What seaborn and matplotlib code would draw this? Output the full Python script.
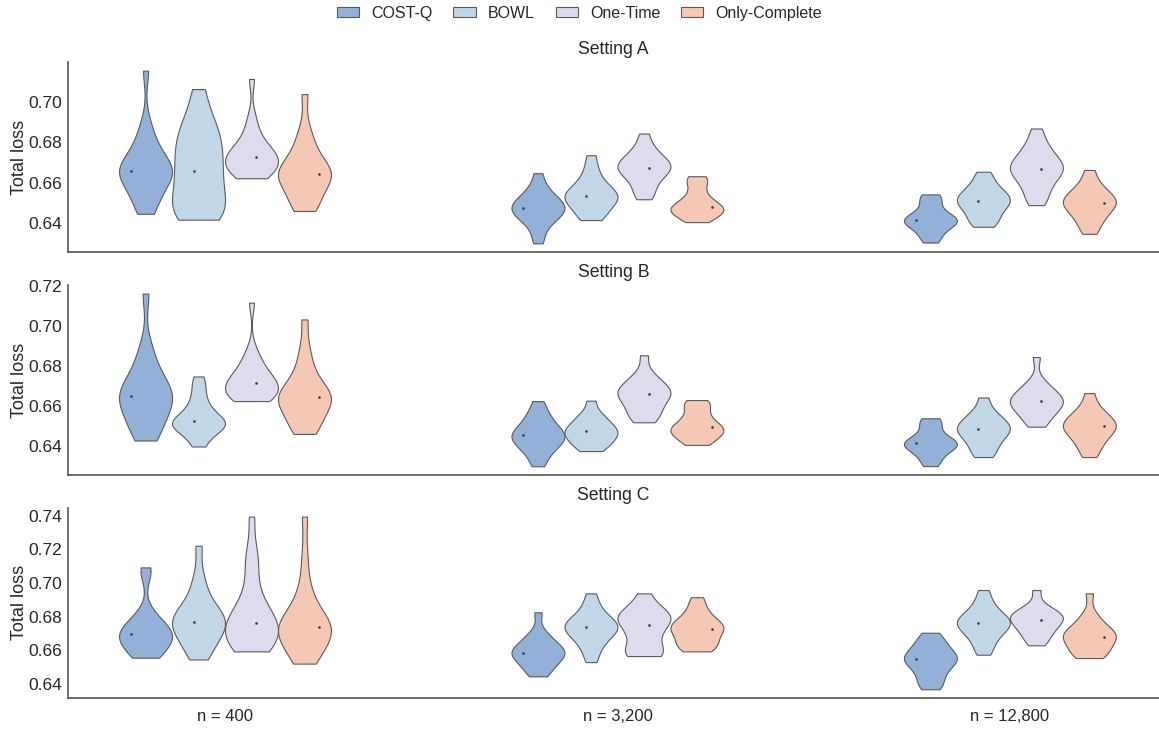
import numpy as np
import pandas as pd
import matplotlib
matplotlib.use("Agg")
import matplotlib.pyplot as plt
import seaborn as sns
from matplotlib.patches import Patch
from matplotlib.ticker import MultipleLocator

# --- categories ---
SAMPLE_SIZES = ["n = 400", "n = 3,200", "n = 12,800"]
METHODS = ["COST-Q", "BOWL", "One-Time", "Only-Complete"]
SETTINGS = ["Setting A", "Setting B", "Setting C"]
COLORS = ["#92b0d8", "#c1d7e8", "#dcdcee", "#f4c8b5"]

# --- total loss per replicate, [n=400, n=3200, n=12800] ---
a_costq = [
    [0.6446, 0.6475, 0.651, 0.654, 0.657, 0.659, 0.661, 0.663, 0.664, 0.665, 0.666,
     0.667, 0.668, 0.669, 0.671, 0.673, 0.676, 0.680, 0.683, 0.690, 0.7154],
    [0.6300, 0.635, 0.639, 0.641, 0.643, 0.644, 0.645, 0.646, 0.647, 0.648, 0.649,
     0.650, 0.651, 0.652, 0.654, 0.656, 0.659, 0.6647],
    [0.6304, 0.6325, 0.635, 0.637, 0.6385, 0.6395, 0.6405, 0.641, 0.6415, 0.642,
     0.643, 0.644, 0.6455, 0.648, 0.651, 0.653, 0.6542],
]
a_bowl = [
    [0.6417, 0.6425, 0.644, 0.646, 0.648, 0.651, 0.654, 0.657, 0.660, 0.663, 0.666,
     0.669, 0.672, 0.675, 0.678, 0.681, 0.684, 0.687, 0.691, 0.697, 0.7063],
    [0.6415, 0.643, 0.645, 0.647, 0.649, 0.650, 0.651, 0.652, 0.653, 0.654, 0.655,
     0.656, 0.657, 0.659, 0.661, 0.664, 0.668, 0.6736],
    [0.6382, 0.640, 0.642, 0.644, 0.646, 0.6475, 0.649, 0.650, 0.651, 0.652, 0.653,
     0.654, 0.6555, 0.657, 0.659, 0.662, 0.6654],
]
a_onetime = [
    [0.6622, 0.663, 0.664, 0.6655, 0.667, 0.668, 0.669, 0.670, 0.671, 0.672, 0.673,
     0.674, 0.675, 0.676, 0.678, 0.680, 0.683, 0.687, 0.693, 0.7113],
    [0.6518, 0.6545, 0.657, 0.660, 0.662, 0.664, 0.665, 0.666, 0.667, 0.668, 0.669,
     0.670, 0.671, 0.672, 0.674, 0.676, 0.679, 0.6843],
    [0.6489, 0.652, 0.655, 0.658, 0.6605, 0.6625, 0.664, 0.6655, 0.6665, 0.6675,
     0.6685, 0.670, 0.6715, 0.673, 0.675, 0.678, 0.681, 0.6868],
]
a_onlycomp = [
    [0.646, 0.6475, 0.650, 0.653, 0.656, 0.658, 0.660, 0.662, 0.663, 0.664, 0.665,
     0.666, 0.667, 0.669, 0.671, 0.674, 0.678, 0.681, 0.688, 0.7038],
    [0.6405, 0.642, 0.643, 0.644, 0.645, 0.646, 0.6465, 0.647, 0.6475, 0.648, 0.649,
     0.650, 0.651, 0.653, 0.655, 0.658, 0.661, 0.662, 0.6632],
    [0.6347, 0.638, 0.641, 0.643, 0.645, 0.6465, 0.648, 0.649, 0.650, 0.651, 0.652,
     0.653, 0.6545, 0.656, 0.658, 0.661, 0.6663],
]

b_costq = [
    [0.643, 0.6455, 0.649, 0.652, 0.655, 0.658, 0.660, 0.662, 0.6635, 0.665, 0.6665,
     0.668, 0.670, 0.672, 0.675, 0.679, 0.684, 0.691, 0.7164],
    [0.6301, 0.634, 0.637, 0.639, 0.6405, 0.642, 0.643, 0.644, 0.645, 0.646, 0.647,
     0.648, 0.6495, 0.651, 0.653, 0.6555, 0.658, 0.6627],
    [0.6302, 0.6325, 0.635, 0.637, 0.6385, 0.6395, 0.6405, 0.641, 0.6415, 0.642,
     0.643, 0.644, 0.6455, 0.648, 0.651, 0.653, 0.6541],
]
b_bowl = [
    [0.640, 0.643, 0.646, 0.648, 0.6495, 0.650, 0.6505, 0.651, 0.6515, 0.6525, 0.6535,
     0.6545, 0.656, 0.658, 0.660, 0.663, 0.667, 0.671, 0.675],
    [0.6377, 0.6395, 0.641, 0.6425, 0.644, 0.645, 0.646, 0.647, 0.648, 0.649, 0.650,
     0.6515, 0.653, 0.655, 0.657, 0.6629],
    [0.6347, 0.637, 0.6395, 0.642, 0.644, 0.6455, 0.647, 0.648, 0.649, 0.650, 0.651,
     0.6525, 0.654, 0.656, 0.6585, 0.6645],
]
b_onetime = [
    [0.6627, 0.6632, 0.664, 0.665, 0.666, 0.667, 0.668, 0.669, 0.670, 0.671, 0.672,
     0.673, 0.674, 0.6755, 0.677, 0.679, 0.682, 0.684, 0.689, 0.7119],
    [0.6521, 0.654, 0.656, 0.658, 0.660, 0.662, 0.6635, 0.665, 0.666, 0.667, 0.668,
     0.669, 0.6705, 0.672, 0.674, 0.677, 0.6856],
    [0.6499, 0.6525, 0.655, 0.657, 0.6585, 0.660, 0.661, 0.662, 0.663, 0.664, 0.665,
     0.6665, 0.668, 0.670, 0.673, 0.6847],
]
b_onlycomp = [
    [0.6463, 0.648, 0.6505, 0.653, 0.656, 0.658, 0.660, 0.6615, 0.663, 0.664, 0.665,
     0.666, 0.667, 0.669, 0.671, 0.674, 0.678, 0.683, 0.690, 0.7035],
    [0.6408, 0.642, 0.6435, 0.645, 0.646, 0.647, 0.648, 0.6485, 0.649, 0.650, 0.651,
     0.6525, 0.654, 0.656, 0.6585, 0.661, 0.662, 0.6632],
    [0.6347, 0.638, 0.641, 0.643, 0.645, 0.6465, 0.648, 0.649, 0.650, 0.651, 0.652,
     0.653, 0.6545, 0.656, 0.658, 0.661, 0.6667],
]

c_costq = [
    [0.6554, 0.657, 0.659, 0.661, 0.663, 0.665, 0.6665, 0.668, 0.669, 0.670, 0.671,
     0.6725, 0.674, 0.676, 0.679, 0.683, 0.7055, 0.7093],
    [0.6443, 0.647, 0.650, 0.652, 0.654, 0.6555, 0.657, 0.658, 0.659, 0.660, 0.6615,
     0.663, 0.665, 0.6675, 0.671, 0.6825],
    [0.6366, 0.639, 0.642, 0.645, 0.648, 0.650, 0.652, 0.6535, 0.6545, 0.6555, 0.6565,
     0.658, 0.660, 0.662, 0.6645, 0.667, 0.6703],
]
c_bowl = [
    [0.6544, 0.658, 0.662, 0.665, 0.668, 0.670, 0.672, 0.674, 0.6755, 0.677, 0.6785,
     0.680, 0.682, 0.684, 0.687, 0.691, 0.697, 0.705, 0.7222],
    [0.6528, 0.658, 0.662, 0.665, 0.667, 0.669, 0.6705, 0.672, 0.673, 0.674, 0.675,
     0.676, 0.6775, 0.679, 0.681, 0.684, 0.688, 0.6938],
    [0.6572, 0.661, 0.665, 0.668, 0.670, 0.672, 0.6735, 0.675, 0.676, 0.677, 0.678,
     0.6795, 0.681, 0.683, 0.686, 0.690, 0.6958],
]
c_onetime = [
    [0.6592, 0.6605, 0.662, 0.664, 0.666, 0.668, 0.670, 0.672, 0.674, 0.6755, 0.677,
     0.679, 0.681, 0.684, 0.688, 0.694, 0.703, 0.714, 0.718, 0.7396],
    [0.6564, 0.657, 0.658, 0.660, 0.664, 0.668, 0.671, 0.6735, 0.6765, 0.678, 0.679,
     0.6805, 0.682, 0.684, 0.687, 0.6938],
    [0.6628, 0.666, 0.669, 0.671, 0.673, 0.675, 0.6765, 0.678, 0.679, 0.680, 0.681,
     0.6825, 0.684, 0.6865, 0.6958],
]
c_onlycomp = [
    [0.6519, 0.655, 0.658, 0.661, 0.664, 0.6665, 0.6685, 0.6705, 0.672, 0.673, 0.674,
     0.675, 0.677, 0.679, 0.682, 0.686, 0.692, 0.700, 0.716, 0.7396],
    [0.6592, 0.6605, 0.662, 0.6635, 0.665, 0.667, 0.669, 0.671, 0.672, 0.673, 0.674,
     0.675, 0.6765, 0.678, 0.680, 0.683, 0.687, 0.6915],
    [0.6552, 0.6565, 0.658, 0.660, 0.662, 0.664, 0.6655, 0.667, 0.668, 0.669, 0.670,
     0.6715, 0.673, 0.675, 0.678, 0.682, 0.6938],
]

SETTING_DATA = {
    "Setting A": [a_costq, a_bowl, a_onetime, a_onlycomp],
    "Setting B": [b_costq, b_bowl, b_onetime, b_onlycomp],
    "Setting C": [c_costq, c_bowl, c_onetime, c_onlycomp],
}


def to_long(method_lists):
    rows = []
    for method, per_n in zip(METHODS, method_lists):
        for n_label, vals in zip(SAMPLE_SIZES, per_n):
            for v in vals:
                rows.append({"n": n_label, "method": method, "loss": v})
    return pd.DataFrame(rows)


sns.set_theme(style="white")
plt.rcParams["font.family"] = ["Liberation Sans", "DejaVu Sans"]

fig, axes = plt.subplots(3, 1, figsize=(11.59, 7.30), dpi=100, sharex=True)
fig.subplots_adjust(left=0.0587, right=1.0, top=0.915, bottom=0.044, hspace=0.174)

palette = dict(zip(METHODS, COLORS))
dot_palette = {m: "#3a3a3a" for m in METHODS}

for ax, setting in zip(axes, SETTINGS):
    df = to_long(SETTING_DATA[setting])
    sns.violinplot(
        data=df, x="n", y="loss", hue="method",
        order=SAMPLE_SIZES, hue_order=METHODS, palette=palette,
        density_norm="width", cut=0, inner=None, width=0.54, gap=0,
        bw_adjust=0.8, linewidth=0.8, linecolor="#5a5a5a", saturation=1,
        legend=False, ax=ax,
    )
    # median marker per violin, dodged a bit wider than the violins
    sns.pointplot(
        data=df, x="n", y="loss", hue="method",
        order=SAMPLE_SIZES, hue_order=METHODS, palette=dot_palette,
        estimator="median", errorbar=None, dodge=0.48,
        linestyle="none", marker="o", markersize=1.9, markeredgewidth=0,
        legend=False, ax=ax,
    )
    ax.set_title(setting, fontsize=12.7, pad=6, color="#262626")
    ax.set_ylabel("Total loss", fontsize=13, color="#262626")
    ax.yaxis.set_label_coords(-0.037, 0.5)
    ax.yaxis.set_major_locator(MultipleLocator(0.02))
    ax.set_xlabel("")
    ax.set_xlim(-0.40, 2.38)
    ax.tick_params(axis="both", labelsize=12.5, length=0, pad=4, labelcolor="#262626")
    sns.despine(ax=ax)
    for side in ["left", "bottom"]:
        ax.spines[side].set_color("#555555")
        ax.spines[side].set_linewidth(1.2)

for ax in axes[:-1]:
    ax.tick_params(axis="x", labelbottom=False)
axes[-1].tick_params(axis="x", labelsize=12, pad=8)

handles = [Patch(facecolor=c, edgecolor="#5a5a5a", linewidth=0.8, label=m)
           for m, c in zip(METHODS, COLORS)]
fig.legend(handles=handles, loc="upper center", ncol=4, frameon=False,
           fontsize=11.5, bbox_to_anchor=(0.5, 1.012), handlelength=1.4,
           handleheight=0.65, columnspacing=1.3, handletextpad=0.75)

fig.savefig("out.png", dpi=100)
